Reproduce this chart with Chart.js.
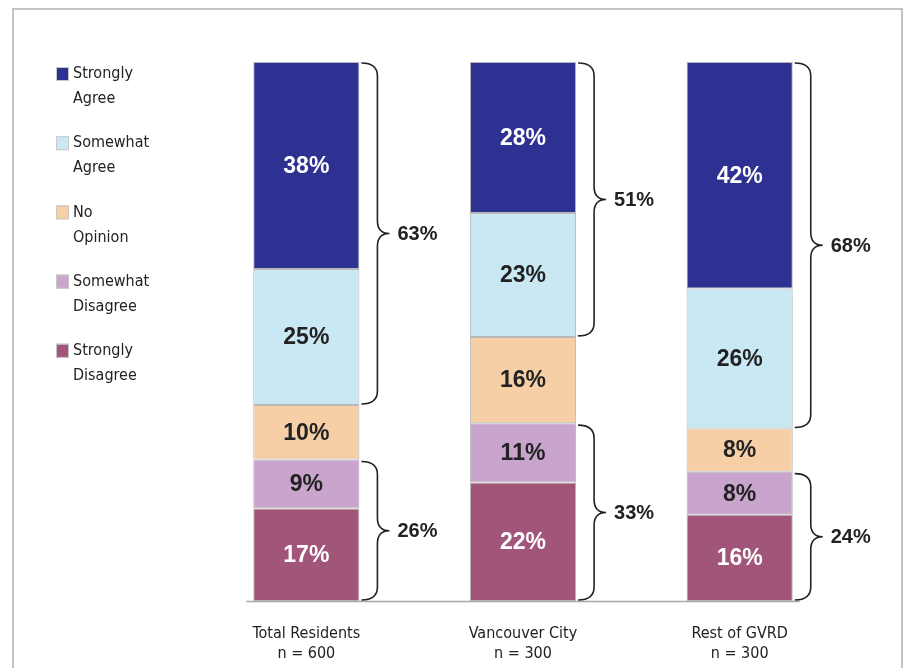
<!DOCTYPE html>
<html>
<head>
<meta charset="utf-8">
<script src="https://cdn.jsdelivr.net/npm/chart.js@4"></script>
<style>
  html, body { margin: 0; padding: 0; background: #fff; }
  #wrap { width: 906px; height: 668px; }
</style>
</head>
<body>
<div id="wrap"><canvas id="chart" width="906" height="668"></canvas></div>
<script>
const groups = [["Total Residents", "n = 600"], ["Vancouver City", "n = 300"], ["Rest of GVRD", "n = 300"]];
const answers = ["Strongly Agree", "Somewhat Agree", "No Opinion", "Somewhat Disagree", "Strongly Disagree"];

const stronglyAgree = [38, 28, 42];
const somewhatAgree = [25, 23, 26];
const noOpinion = [10, 16, 8];
const somewhatDisagree = [9, 11, 8];
const stronglyDisagree = [17, 22, 16];

// bracket totals
const agreeTotal = [63, 51, 68];
const disagreeTotal = [26, 33, 24];

const colors = ["#2e3192", "#c9e8f4", "#f6cfa7", "#c9a4cd", "#a15578"];
const labelColors = ["#fff", "#222", "#222", "#222", "#fff"];

const narrow = "'DejaVu Sans Condensed', 'Liberation Sans Narrow', sans-serif";
const boldFont = "'Liberation Sans', Arial, sans-serif";

const series = [stronglyAgree, somewhatAgree, noOpinion, somewhatDisagree, stronglyDisagree];
// each column is drawn as a 100% stack
const colSum = groups.map((g, i) => series.reduce((s, a) => s + a[i], 0));

// Chart.js stacks from the bottom, so reverse
const datasets = series.map((vals, k) => ({
  label: answers[k],
  data: vals.map((v, i) => v / colSum[i] * 100),
  raw: vals,
  backgroundColor: colors[k],
  borderColor: "#b8b8b8",
  borderWidth: 1,
  borderSkipped: false,
  textColor: labelColors[k]
})).reverse();

function brace(ctx, x0, t, b) {
  const xv = x0 + 16, xt = x0 + 28, m = (t + b) / 2, r = 13;
  ctx.beginPath();
  ctx.moveTo(x0, t);
  ctx.quadraticCurveTo(xv, t, xv, t + r);
  ctx.lineTo(xv, m - r);
  ctx.quadraticCurveTo(xv, m, xt, m);
  ctx.quadraticCurveTo(xv, m, xv, m + r);
  ctx.lineTo(xv, b - r);
  ctx.quadraticCurveTo(xv, b, x0, b);
  ctx.stroke();
}

const decor = {
  id: "decor",
  afterDatasetsDraw(chart) {
    const ctx = chart.ctx;
    const area = chart.chartArea;
    ctx.save();

    // values inside the segments
    ctx.textAlign = "center";
    ctx.textBaseline = "middle";
    ctx.font = "bold 23px " + boldFont;
    chart.data.datasets.forEach((ds, d) => {
      chart.getDatasetMeta(d).data.forEach((bar, i) => {
        ctx.fillStyle = ds.textColor;
        ctx.fillText(ds.raw[i] + "%", bar.x, (bar.y + bar.base) / 2 + 1);
      });
    });

    // base line
    const first = chart.getDatasetMeta(0).data[0];
    const last = chart.getDatasetMeta(0).data[groups.length - 1];
    ctx.strokeStyle = "#a8a8a8";
    ctx.lineWidth = 1.5;
    ctx.beginPath();
    ctx.moveTo(first.x - first.width / 2 - 7, area.bottom + 0.5);
    ctx.lineTo(last.x + last.width / 2 + 7, area.bottom + 0.5);
    ctx.stroke();

    // braces
    const sa = chart.getDatasetMeta(4).data, swa = chart.getDatasetMeta(3).data;
    const swd = chart.getDatasetMeta(1).data, sd = chart.getDatasetMeta(0).data;
    ctx.strokeStyle = "#222";
    ctx.lineWidth = 1.6;
    ctx.fillStyle = "#222";
    ctx.textAlign = "left";
    ctx.font = "bold 20px " + boldFont;
    groups.forEach((g, i) => {
      const right = sa[i].x + sa[i].width / 2;
      const t1 = sa[i].y + 1, b1 = swa[i].base - 1;
      brace(ctx, right + 2, t1, b1);
      ctx.fillText(agreeTotal[i] + "%", right + 38, (t1 + b1) / 2 + 1);
      const t2 = swd[i].y + 2, b2 = sd[i].base - 1;
      brace(ctx, right + 2, t2, b2);
      ctx.fillText(disagreeTotal[i] + "%", right + 38, (t2 + b2) / 2 + 1);
    });
    ctx.restore();
  },
  afterDraw(chart) {
    const ctx = chart.ctx;
    ctx.save();
    // frame
    ctx.strokeStyle = "#c4c4c4";
    ctx.lineWidth = 2;
    ctx.strokeRect(13, 9, 889, 700);

    // legend, top to bottom
    ctx.font = "16px " + narrow;
    ctx.textBaseline = "middle";
    ctx.textAlign = "left";
    answers.forEach((name, k) => {
      const cy = 74 + k * 69.2;
      ctx.fillStyle = colors[k];
      ctx.fillRect(56, cy - 7, 13, 14);
      ctx.strokeStyle = "#c8c8c8";
      ctx.lineWidth = 1;
      ctx.strokeRect(56.5, cy - 6.5, 12, 13);
      ctx.fillStyle = "#222";
      const words = name.split(" ");
      ctx.fillText(words[0], 73, cy);
      ctx.fillText(words.slice(1).join(" "), 73, cy + 25);
    });
    ctx.restore();
  }
};

new Chart(document.getElementById("chart"), {
  type: "bar",
  data: { labels: groups, datasets: datasets },
  options: {
    responsive: false,
    animation: false,
    layout: { padding: { left: 198, right: 58, top: 62, bottom: 0 } },
    plugins: { legend: { display: false }, tooltip: { enabled: false } },
    datasets: { bar: { categoryPercentage: 1, barPercentage: 0.49 } },
    scales: {
      x: {
        stacked: true,
        grid: { display: false, drawTicks: false },
        border: { display: false },
        ticks: { font: { family: narrow, size: 16, lineHeight: 1.3 }, color: "#222", padding: 22, maxRotation: 0 },
        afterFit(scale) { scale.height = 67; }
      },
      y: { stacked: true, display: false, min: 0, max: 100 }
    }
  },
  plugins: [decor]
});
</script>
</body>
</html>
